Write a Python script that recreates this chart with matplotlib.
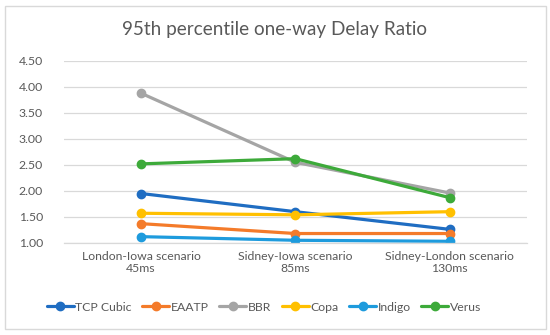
import matplotlib
matplotlib.use("Agg")
import matplotlib.pyplot as plt
from matplotlib.patches import Rectangle

plt.rcParams['font.family'] = ['Lato', 'DejaVu Sans']

categories = ["London-Iowa scenario\n45ms", "Sidney-Iowa scenario\n85ms", "Sidney-London scenario\n130ms"]
series_names = ["TCP Cubic", "EAATP", "BBR", "Copa", "Indigo", "Verus"]
tcp_cubic = [1.95, 1.60, 1.26]
eaatp = [1.37, 1.18, 1.18]
bbr = [3.88, 2.55, 1.96]
copa = [1.57, 1.54, 1.60]
indigo = [1.12, 1.05, 1.03]
verus = [2.52, 2.62, 1.87]
y_ticks = [1.00, 1.50, 2.00, 2.50, 3.00, 3.50, 4.00, 4.50]
colors = ["#1F6DC2", "#F47B2A", "#A5A5A5", "#FFC000", "#1E9BDD", "#3DAA3A"]

fig = plt.figure(figsize=(5.5, 3.35), dpi=100)
ax = fig.add_axes([0.116, 0.275, 0.842, 0.543])

data = [tcp_cubic, eaatp, bbr, copa, indigo, verus]
x = list(range(len(categories)))
for name, vals, c in zip(series_names, data, colors):
    ax.plot(x, vals, color=c, lw=2.3, marker='o', markersize=6, label=name,
            solid_capstyle='round')

ax.set_xlim(-0.5, 2.5)
ax.set_ylim(1.0, 4.5)
ax.set_yticks(y_ticks)
ax.set_yticklabels([f"{v:.2f}" for v in y_ticks])
ax.set_xticks(x)
ax.set_xticklabels(categories, linespacing=1.05)
ax.tick_params(axis='both', length=0, labelsize=8.8, colors='#595959')
ax.tick_params(axis='y', pad=15)
ax.tick_params(axis='x', pad=6)
ax.grid(axis='y', color='#D9D9D9', lw=0.9)
ax.set_axisbelow(True)
for s in ['top', 'right', 'left']:
    ax.spines[s].set_visible(False)
ax.spines['bottom'].set_color('#D9D9D9')
ax.spines['bottom'].set_linewidth(0.9)

fig.text(0.5, 0.912, "95th percentile one-way Delay Ratio", ha='center', va='center',
         fontsize=13.6, color='#595959')

leg = fig.legend(loc='center', bbox_to_anchor=(0.48, 0.083), ncol=6, frameon=False,
                 fontsize=8.8, handlelength=2.2, handletextpad=0.15, columnspacing=0.85)
for t in leg.get_texts():
    t.set_color('#595959')

fig.patches.append(Rectangle((0.009, 0.018), 0.983, 0.965, transform=fig.transFigure,
                             fill=False, edgecolor='#D9D9D9', lw=1.0))

fig.savefig("out.png", dpi=100)
